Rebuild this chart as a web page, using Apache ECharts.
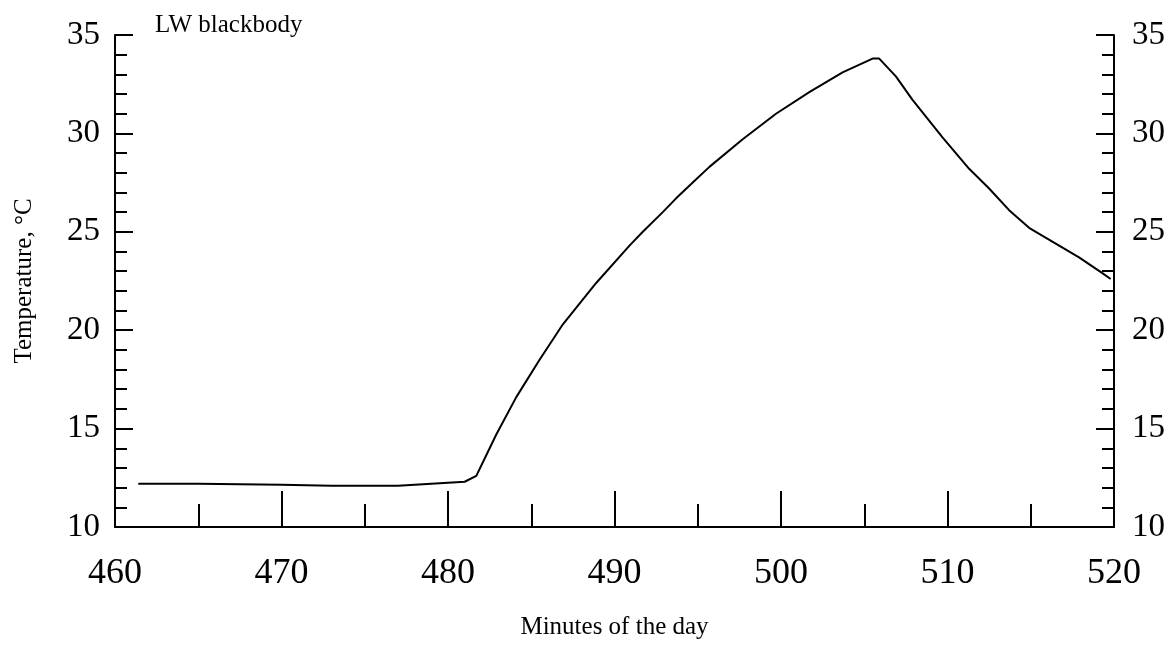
<!DOCTYPE html>
<html>
<head>
<meta charset="utf-8">
<script src="https://cdn.jsdelivr.net/npm/echarts@6/dist/echarts.min.js"></script>
<style>
html,body{margin:0;padding:0;background:#fff;}
#chart{width:1170px;height:645px;}
</style>
</head>
<body>
<div id="chart"></div>
<script>
// Minutes of the day (x) and LW blackbody temperature (y, °C)
const minutes = [461.4, 465, 470, 473, 477, 479, 481, 481.7, 482.9, 484.1, 485.5, 486.9, 488.9, 490.9, 491.7, 492.9, 493.7, 494.7, 495.7, 497.7, 499.7, 501.7, 503.7, 505.5, 505.9, 506.9, 507.9, 509.7, 511.3, 512.5, 513.7, 514.9, 516.5, 517.9, 519.3, 519.8];
const temperature = [12.2, 12.2, 12.15, 12.1, 12.1, 12.2, 12.3, 12.6, 14.7, 16.6, 18.5, 20.3, 22.4, 24.3, 25.0, 26.0, 26.7, 27.5, 28.3, 29.7, 31.0, 32.1, 33.1, 33.8, 33.8, 32.9, 31.7, 29.8, 28.2, 27.2, 26.1, 25.2, 24.4, 23.7, 22.9, 22.6];
const xTicks = [460, 470, 480, 490, 500, 510, 520];
const yTicks = [10, 15, 20, 25, 30, 35];
const titleText = 'LW blackbody';
const xName = 'Minutes of the day';
const yName = 'Temperature, \u00B0C';

const serif = '"Liberation Serif", "DejaVu Serif", serif';
const black = '#000';

const chart = echarts.init(document.getElementById('chart'), null, {renderer: 'canvas'});

function yAxis(pos, showName) {
  return {
    type: 'value', position: pos,
    min: yTicks[0], max: yTicks[yTicks.length - 1], interval: 5,
    name: showName ? yName : '', nameLocation: 'middle', nameGap: 78,
    nameTextStyle: {fontFamily: serif, fontSize: 25, color: black},
    axisLine: {show: true, onZero: false, lineStyle: {color: black, width: 2}},
    axisTick: {show: true, inside: true, length: 18, lineStyle: {color: black, width: 2}},
    minorTick: {show: true, splitNumber: 5, length: 12, lineStyle: {color: black, width: 2}},
    axisLabel: {fontFamily: serif, fontSize: 33, color: black, margin: pos === 'left' ? 15 : 18},
    splitLine: {show: false}
  };
}

chart.setOption({
  animation: false,
  backgroundColor: '#fff',
  title: {
    text: titleText, left: 150, top: 8,
    textStyle: {fontFamily: serif, fontSize: 25, fontWeight: 'normal', color: black}
  },
  grid: {left: 115, right: 56, top: 35, bottom: 116},
  xAxis: {
    type: 'value', min: xTicks[0], max: xTicks[xTicks.length - 1], interval: 10,
    name: xName, nameLocation: 'middle', nameGap: 88,
    nameTextStyle: {fontFamily: serif, fontSize: 25, color: black},
    axisLine: {show: true, onZero: false, lineStyle: {color: black, width: 2}},
    axisTick: {show: true, inside: true, length: 36, lineStyle: {color: black, width: 2}},
    minorTick: {show: true, splitNumber: 2, length: 23, lineStyle: {color: black, width: 2}},
    axisLabel: {fontFamily: serif, fontSize: 36, color: black, margin: 29},
    splitLine: {show: false}
  },
  yAxis: [yAxis('left', true), yAxis('right', false)],
  series: [{
    type: 'line',
    data: minutes.map((m, i) => [m, temperature[i]]),
    showSymbol: false,
    smooth: false,
    lineStyle: {color: black, width: 2},
    itemStyle: {color: black}
  }]
});
</script>
</body>
</html>
